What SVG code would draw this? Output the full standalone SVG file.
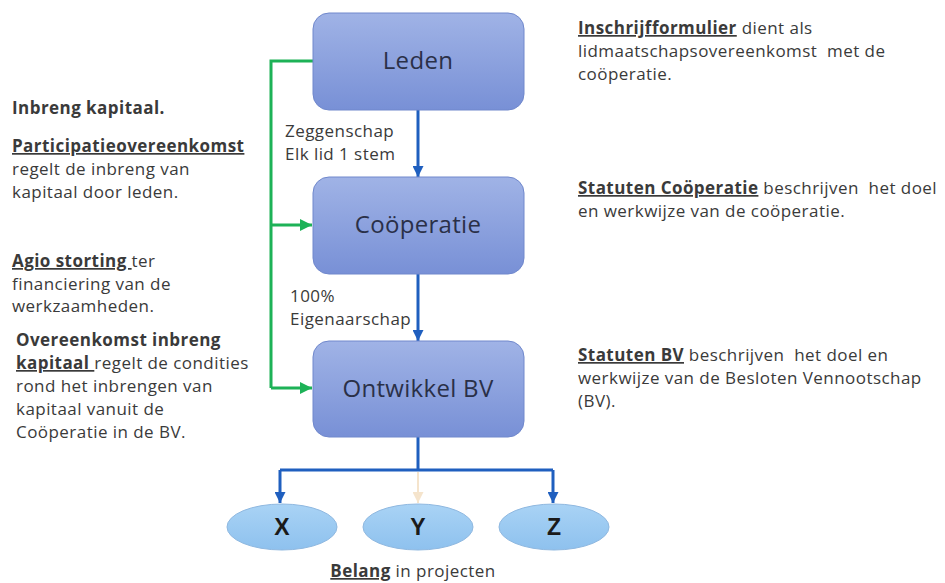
<svg xmlns="http://www.w3.org/2000/svg" width="945" height="583" viewBox="0 0 945 583">
<defs>
<linearGradient id="gBox" x1="0" y1="0" x2="0" y2="1">
<stop offset="0" stop-color="#a0b3e6"/>
<stop offset="1" stop-color="#7890d6"/>
</linearGradient>
<linearGradient id="gEll" x1="0" y1="0" x2="0" y2="1">
<stop offset="0" stop-color="#a9d3f5"/>
<stop offset="1" stop-color="#8ec1ee"/>
</linearGradient>
<marker id="aBlue" markerWidth="11" markerHeight="11" refX="10" refY="5" orient="auto" markerUnits="userSpaceOnUse" viewBox="0 0 10 10">
<path d="M0,0 L10,5 L0,10 Z" fill="#1f5fbf"/>
</marker>
<marker id="aPale" markerWidth="11" markerHeight="11" refX="10" refY="5" orient="auto" markerUnits="userSpaceOnUse" viewBox="0 0 10 10">
<path d="M0,0 L10,5 L0,10 Z" fill="#f5e4cc"/>
</marker>
<marker id="aGreen" markerWidth="12" markerHeight="12" refX="10" refY="5" orient="auto" markerUnits="userSpaceOnUse" viewBox="0 0 10 10">
<path d="M0,0 L10,5 L0,10 Z" fill="#1db257"/>
</marker>
</defs>
<style>
.box{fill:url(#gBox);stroke:#7088cc;stroke-width:1}
.ell{fill:url(#gEll);stroke:#8fb8e0;stroke-width:1}
.bt{font-family:"Open Sans","Liberation Sans",sans-serif;font-size:24px;letter-spacing:0.3px;fill:#2a3048;text-anchor:middle}
.et{font-family:"Liberation Sans",Arial,sans-serif;font-size:23px;font-weight:bold;fill:#1a1a1a;text-anchor:middle}
.t{font-family:"Open Sans","Liberation Sans",sans-serif;font-size:17px;letter-spacing:0.45px;fill:#3a3a3a;white-space:pre}
.b{font-weight:bold}
.u{text-decoration:underline}
.blue{stroke:#1f5fbf;stroke-width:3;fill:none}
.green{stroke:#1db257;stroke-width:3;fill:none}
.pale{stroke:#f5e4cc;stroke-width:2;fill:none}
</style>
<g id="connectors">
<path class="green" d="M313,61 H271 V388"/>
<path class="green" d="M271,225 H312" marker-end="url(#aGreen)"/>
<path class="green" d="M271,388 H312" marker-end="url(#aGreen)"/>
<path class="blue" d="M418,110 V177" marker-end="url(#aBlue)"/>
<path class="blue" d="M418,274 V341" marker-end="url(#aBlue)"/>
<path class="blue" d="M418,437 V470"/>
<path class="blue" d="M280,470 H553"/>
<path class="blue" d="M280,470 V503" marker-end="url(#aBlue)"/>
<path class="blue" d="M553,470 V503" marker-end="url(#aBlue)"/>
<path class="pale" d="M418,472 V503" marker-end="url(#aPale)"/>
</g>
<g id="leden">
<rect class="box" x="313" y="13" width="211" height="97" rx="16"/>
<text class="bt" x="418" y="69">Leden</text>
</g>
<g id="cooperatie">
<rect class="box" x="313" y="177" width="211" height="97" rx="16"/>
<text class="bt" x="418" y="233">Coöperatie</text>
</g>
<g id="ontwikkelbv">
<rect class="box" x="313" y="341" width="211" height="96" rx="16"/>
<text class="bt" x="418" y="397">Ontwikkel BV</text>
</g>
<g id="x">
<ellipse class="ell" cx="282" cy="527" rx="55" ry="23"/>
<text class="et" x="282" y="535">X</text>
</g>
<g id="y">
<ellipse class="ell" cx="418" cy="527" rx="55" ry="23"/>
<text class="et" x="418" y="535">Y</text>
</g>
<g id="z">
<ellipse class="ell" cx="554" cy="527" rx="55" ry="23"/>
<text class="et" x="554" y="535">Z</text>
</g>
<g id="labels">
<text class="t" x="285" y="137">Zeggenschap</text>
<text class="t" x="285" y="160">Elk lid 1 stem</text>
<text class="t" x="290" y="302">100%</text>
<text class="t" x="290" y="325">Eigenaarschap</text>
</g>
<g id="left-text">
<text class="t b" x="12" y="114">Inbreng kapitaal.</text>
<text class="t" x="12" y="152"><tspan class="b u">Participatieovereenkomst</tspan></text>
<text class="t" x="12" y="175">regelt de inbreng van</text>
<text class="t" x="12" y="198">kapitaal door leden.</text>
<text class="t" x="12" y="267"><tspan class="b u">Agio storting </tspan>ter</text>
<text class="t" x="12" y="290">financiering van de</text>
<text class="t" x="12" y="312">werkzaamheden.</text>
<text class="t b" x="16" y="346">Overeenkomst inbreng</text>
<text class="t" x="16" y="369"><tspan class="b u">kapitaal </tspan>regelt de condities</text>
<text class="t" x="16" y="392">rond het inbrengen van</text>
<text class="t" x="16" y="415">kapitaal vanuit de</text>
<text class="t" x="16" y="438">Coöperatie in de BV.</text>
</g>
<g id="right-text">
<text class="t" x="578" y="34"><tspan class="b u">Inschrijfformulier</tspan> dient als</text>
<text class="t" x="578" y="57">lidmaatschapsovereenkomst  met de</text>
<text class="t" x="578" y="80">coöperatie.</text>
<text class="t" x="578" y="194"><tspan class="b u">Statuten Coöperatie</tspan> beschrijven  het doel</text>
<text class="t" x="578" y="217">en werkwijze van de coöperatie.</text>
<text class="t" x="578" y="361"><tspan class="b u">Statuten BV</tspan> beschrijven  het doel en</text>
<text class="t" x="578" y="384">werkwijze van de Besloten Vennootschap</text>
<text class="t" x="578" y="407">(BV).</text>
</g>
<g id="belang">
<text class="t" x="413" y="577" text-anchor="middle"><tspan class="b u">Belang</tspan> in projecten</text>
</g>
</svg>
